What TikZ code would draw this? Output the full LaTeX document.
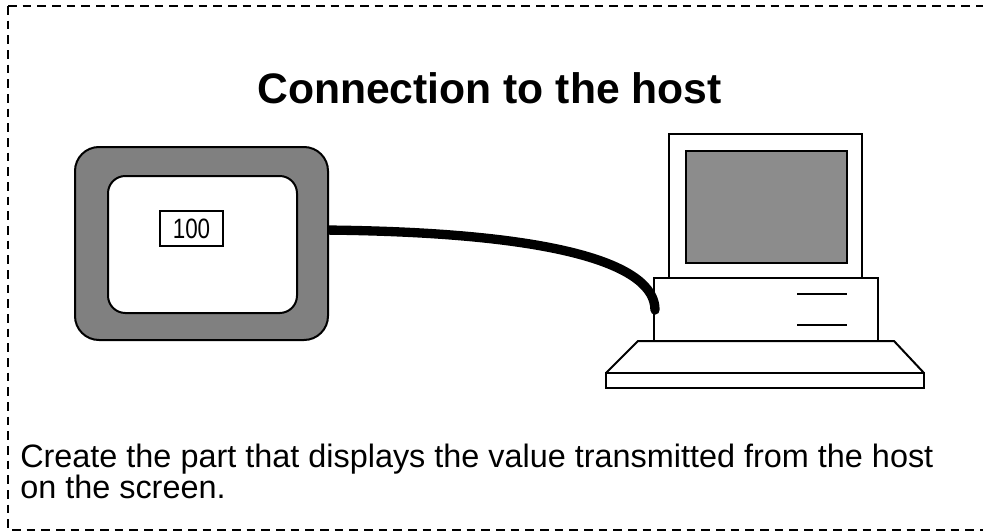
\documentclass[tikz,border=0pt]{standalone}
\usepackage{graphicx}
\usepackage{fontspec}
\setmainfont{Liberation Sans}
\definecolor{panelgray}{RGB}{128,128,128}
\definecolor{screengray}{RGB}{140,140,140}

\begin{document}
\begin{tikzpicture}[x=0.75pt,y=-0.75pt,
    outline/.style={line width=1.5pt},
    cable/.style={line width=7pt,line cap=round},
    frame/.style={line width=1.5pt,dash pattern=on 6.5pt off 4.5pt}]
    \useasboundingbox (0,0) rectangle (983,532);
    % dashed frame, open on the right
    \draw[frame] (8,6) -- (990,6);
    \draw[frame] (8,6) -- (8,530) -- (990,530);
    \node[anchor=base] (title) at (489.5,103) {\fontsize{32}{38}\selectfont\bfseries Connection to the host};

    % host computer
    \draw[outline,fill=white] (669,134) rectangle (862,278);
    \draw[outline,fill=screengray] (686,151) rectangle (847,263);
    \draw[outline] (654,278) rectangle (878,341);
    \draw[outline] (797,294) -- (847,294) (797,325) -- (847,325);
    \draw[outline] (606,373) -- (638,341) -- (894,341) -- (924,373);
    \draw[outline] (606,373) rectangle (924,388);

    % cable between panel and host
    \coordinate (plug) at (322,230);
    \coordinate (port) at (655,310);
    \draw[cable] (plug) .. controls (560,232) and (655,265) .. (port);

    % display panel
    \draw[outline,fill=panelgray,rounded corners=18pt] (75,147) rectangle (328,340);
    \draw[outline,fill=white,rounded corners=13pt] (108,176) rectangle (297,313);
    \node[draw,line width=1.2pt,inner sep=0pt,minimum width=47.25pt,minimum height=26.25pt] (value) at (191.5,228.5)
        {\fontsize{21}{24}\selectfont\scalebox{0.8}[1]{100}};

    \node[anchor=base west,inner sep=0pt] (note1) at (20,467) {\fontsize{24.3}{29}\selectfont Create the part that displays the value transmitted from the host};
    \node[anchor=base west,inner sep=0pt] (note2) at (20,498) {\fontsize{24.3}{29}\selectfont on the screen.};
\end{tikzpicture}
\end{document}
